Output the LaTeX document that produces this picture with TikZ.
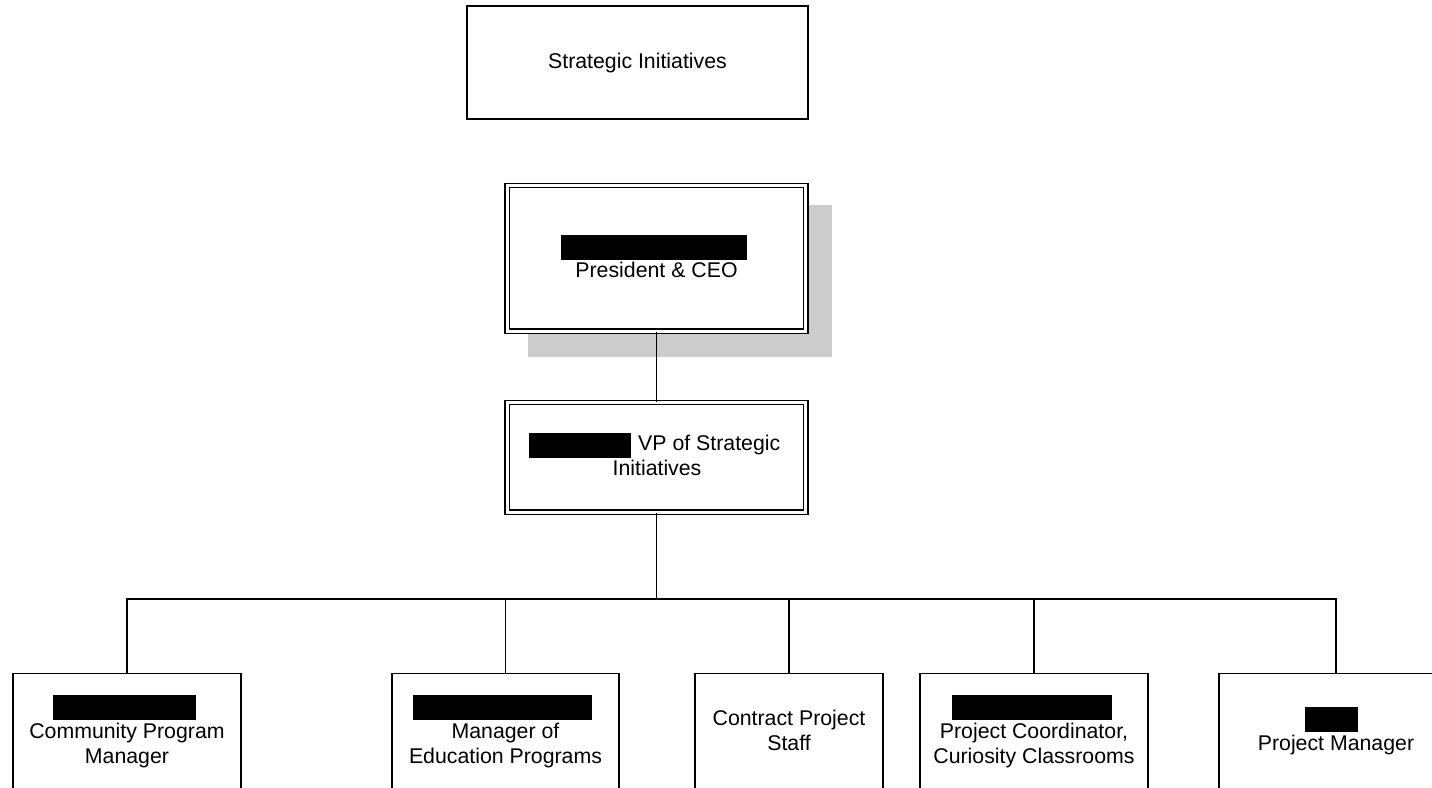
\documentclass[tikz,border=0pt]{standalone}
\usepackage{fontspec}
\setmainfont{Liberation Sans}
\begin{document}
\begin{tikzpicture}[x=1pt,y=-1pt,
  box/.style={draw=black,line width=1.3pt,fill=white,inner sep=0pt},
  dbox/.style={draw=black,line width=1.3pt,double=white,double distance=3pt,fill=white,inner sep=0pt},
  lbl/.style={font=\fontsize{21.3}{25}\selectfont,inner sep=0pt,anchor=base,text=black},
  bar/.style={fill=black,inner sep=0pt},
  conn/.style={draw=black,line width=1.3pt}]
\useasboundingbox (0,0) rectangle (1432,787);
\begin{scope}
\clip (0,0) rectangle (1432,787);
% top box
\node[box,minimum width=341pt,minimum height=113pt] (si) at (637.5,62.5) {};
\node[lbl] (silbl) at (637.5,68) {Strategic Initiatives};
% CEO with shadow
\fill[black!20] (528,205) rectangle (832,357);
\node[dbox,minimum width=298.5pt,minimum height=145.5pt] (ceo) at (656.5,258.25) {};
\node[bar,minimum width=186pt,minimum height=25pt] (ceobar) at (654,247) {};
\node[lbl] (ceolbl) at (656.5,277) {President \& CEO};
% VP
\node[dbox,minimum width=298.5pt,minimum height=109.5pt] (vp) at (656.5,457.25) {};
\node[bar,minimum width=102pt,minimum height=25pt] (vpbar) at (580,445.5) {};
\node[lbl,anchor=base west] (vplbl1) at (638,450) {VP of Strategic};
\node[lbl] (vplbl2) at (657,475) {Initiatives};
% bottom boxes
\node[box,minimum width=228pt,minimum height=200pt,anchor=north] (b1) at (127,673) {};
\node[box,minimum width=227pt,minimum height=200pt,anchor=north] (b2) at (505.5,673) {};
\node[box,minimum width=188pt,minimum height=200pt,anchor=north] (b3) at (789,673) {};
\node[box,minimum width=228pt,minimum height=200pt,anchor=north] (b4) at (1034,673) {};
\node[box,minimum width=234pt,minimum height=200pt,anchor=north] (b5) at (1336,673) {};
% bars
\node[bar,minimum width=143pt,minimum height=25pt] (b1bar) at (124.5,707) {};
\node[bar,minimum width=179pt,minimum height=25pt] (b2bar) at (502.5,707) {};
\node[bar,minimum width=160pt,minimum height=25pt] (b4bar) at (1032,707) {};
\node[bar,minimum width=53pt,minimum height=25pt] (b5bar) at (1331.5,719.5) {};
% labels
\node[lbl] (b1l1) at (127,738) {Community Program};
\node[lbl] (b1l2) at (127,763) {Manager};
\node[lbl] (b2l1) at (505.5,738) {Manager of};
\node[lbl] (b2l2) at (505.5,763) {Education Programs};
\node[lbl] (b3l1) at (789,725) {Contract Project};
\node[lbl] (b3l2) at (789,750) {Staff};
\node[lbl] (b4l1) at (1034,738) {Project Coordinator,};
\node[lbl] (b4l2) at (1034,763) {Curiosity Classrooms};
\node[lbl] (b5l1) at (1336,750) {Project Manager};
% connectors
\coordinate (bus) at (656.5,599);
\draw[conn] (ceo.south) -- (vp.north);
\draw[conn] (vp.south) -- (bus);
\draw[conn] (b1.north) |- (bus) -| (b5.north);
\draw[conn] (b2.north) -- (b2.north |- bus);
\draw[conn] (b3.north) -- (b3.north |- bus);
\draw[conn] (b4.north) -- (b4.north |- bus);
\end{scope}
\end{tikzpicture}
\end{document}
